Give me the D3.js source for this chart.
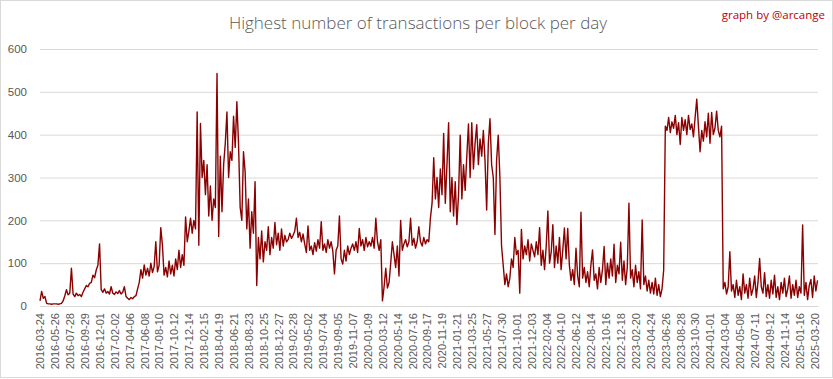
<!DOCTYPE html>
<html>
<head>
<meta charset="utf-8">
<script src="https://cdn.jsdelivr.net/npm/d3@7"></script>
<style>
  html, body { margin: 0; padding: 0; background: #fff; }
  svg { display: block; }
</style>
</head>
<body>
<svg id="chart" width="833" height="379"></svg>
<script>
// ---- Data: weekly readings (every 7 days) starting 2016-03-24 ----
const startLabel = "2016-03-24";
const stepDays = 7;
const vals2016 = [12,34,18,22,6,5,5,4,5,5, 5,4,5,6,12,24,38,26,30,88,
  28,22,30,24,27,22,32,40,48,45, 53,55,72,66,84,95,145,38,32,40, 30];
const vals2017 = [34,28,45,30,27,33,29,36,28, 32,45,22,18,15,20,17,22,24,40,
  55,85,65,96,72,88,70,100,78,92, 150,80,95,183,142,72,90,68,105,75,
  95,70,110,85,130,90,120,95,208,150, 175,205,170];
const vals2018 = [200,180,453,142,426,300,340, 260,330,210,280,200,250,230,543,162,350,
  220,330,380,453,300,360,340,443,370,477, 380,230,200,360,313,180,250,135,220,170,
  290,48,160,110,175,103,150,130,185,120, 160,135,195,143,170,130,180,140,165,150, 155,170,158];
const vals2019 = [165,175,205,160,172,150,168, 145,125,187,130,140,120,148,128,155,135,
  197,130,145,125,155,135,150,128,75,130, 140,210,110,98,130,105,140,120,135,145,
  130,150,125,181,140,155,130,160,138,150, 140,160,135,205,150,130,155];
const vals2020 = [12,45,88, 42,55,100,150,120,90,140,70,200,130,
  145,155,138,150,205,142,158,135,150,185, 150,140,160,145,155,150,205,240,346,250,
  300,230,320,260,403,240,330,428,220,300, 210,290,190,260,399,250,330,270,350,425];
const vals2021 = [300,428,320,380,423,330,390,350,410,340, 224,380,437,330,300,167,340,399,300,140,
  95,50,75,45,65,110,90,160,120,130, 30,179,110,140,120,155,105,145,130,115,
  150,120,183,95,130,85,140,222,100,125, 190,90];
const vals2022 = [140,100,160,85,130,182,110,181, 95,60,85,50,135,70,45,219,65,90,
  55,80,45,95,131,60,75,40,90,55, 85,139,50,100,65,110,70,144,55,95,
  75,149,60,105,50,90,240,65,85,45, 95,55,80,40];
const vals2023 = [201,50,70,35,60,30, 55,28,65,25,50,22,40,84,420,410,
  440,405,430,415,445,400,428,377,440,410, 435,400,445,412,425,395,440,483,420,360,
  410,385,430,395,450,380,452,400,415,455, 410,395];
const vals2024 = [420,40,55,28,45,127,35,50, 20,60,25,45,15,75,30,50,18,65,
  25,40,70,20,55,111,45,30,78,22, 50,18,60,28,72,20,45,15,55,30,
  65,22,40,70,18,50,25,60];
const vals2025 = [20,45, 30,189,25,55,15,48,62,20,70,35,60];
const values = [].concat(vals2016, vals2017, vals2018, vals2019, vals2020,
  vals2021, vals2022, vals2023, vals2024, vals2025);

const tickLabels = ["2016-03-24","2016-05-26","2016-07-28","2016-09-29","2016-12-01",
  "2017-02-02","2017-04-06","2017-06-08","2017-08-10","2017-10-12","2017-12-14",
  "2018-02-15","2018-04-19","2018-06-21","2018-08-23","2018-10-25","2018-12-27",
  "2019-02-28","2019-05-02","2019-07-04","2019-09-05","2019-11-07",
  "2020-01-09","2020-03-12","2020-05-14","2020-07-16","2020-09-17","2020-11-19",
  "2021-01-21","2021-03-25","2021-05-27","2021-07-30","2021-10-01","2021-12-03",
  "2022-02-04","2022-04-10","2022-06-12","2022-08-14","2022-10-16","2022-12-18",
  "2023-02-20","2023-04-24","2023-06-26","2023-08-28","2023-10-30",
  "2024-01-01","2024-03-04","2024-05-08","2024-07-11","2024-09-12","2024-11-14",
  "2025-01-16","2025-03-20"];
const labelEvery = 63; // days between category labels
const yTicks = [0,100,200,300,400,500,600];
const title = "Highest number of transactions per block per day";
const credit = "graph by @arcange";

// ---- Layout ----
const W = 833, H = 379;
const plot = {left: 40, right: 818, top: 49, bottom: 306};
const svg = d3.select("#chart");

svg.append("rect").attr("x",0.5).attr("y",0.5).attr("width",W-1).attr("height",H-2)
  .attr("fill","#fff").attr("stroke","#d9d9d9");

const totalDays = 3292;
const x = d3.scaleLinear().domain([0, totalDays]).range([plot.left, plot.right]);
const y = d3.scaleLinear().domain([0, 600]).range([plot.bottom, plot.top]);

// gridlines
const yAxis = d3.axisLeft(y).tickValues(yTicks).tickSize(-(plot.right - plot.left)).tickPadding(13);
const gy = svg.append("g").attr("transform", `translate(${plot.left},0)`).call(yAxis);
gy.select(".domain").remove();
gy.selectAll(".tick line").attr("stroke","#d9d9d9").attr("stroke-width",1);
gy.selectAll(".tick text").attr("fill","#595959")
  .style("font-family","'Liberation Sans', Arial, sans-serif").style("font-size","11.5px");

// x axis
const xAxis = d3.axisBottom(x)
  .tickValues(tickLabels.map((d,i) => i*labelEvery))
  .tickFormat((d,i) => tickLabels[i]).tickSize(0).tickPadding(0);
const gx = svg.append("g").attr("transform", `translate(0,${plot.bottom})`).call(xAxis);
gx.select(".domain").attr("stroke","#d9d9d9");
gx.selectAll(".tick text")
  .attr("fill","#595959")
  .style("font-family","'Liberation Sans', Arial, sans-serif").style("font-size","11px")
  .attr("text-anchor","end")
  .attr("transform","rotate(-90)")
  .attr("x",-7).attr("y",0).attr("dy","0.35em");

// line
const line = d3.line()
  .x((d,i) => x(i*stepDays))
  .y(d => y(d));
svg.append("path").datum(values)
  .attr("fill","none").attr("stroke","#8b0000").attr("stroke-width",1.4)
  .attr("stroke-linejoin","round")
  .attr("d", line);

// title & credit
svg.append("text").attr("x", 418).attr("y", 29).attr("text-anchor","middle")
  .attr("fill","#595959")
  .style("font-family","'Open Sans', sans-serif").style("font-size","17px")
  .style("font-weight", 300)
  .text(title);
svg.append("text").attr("x", 825).attr("y", 19).attr("text-anchor","end")
  .attr("fill","#c00000")
  .style("font-family","'Open Sans', sans-serif").style("font-size","11.5px")
  .text(credit);
</script>
</body>
</html>
